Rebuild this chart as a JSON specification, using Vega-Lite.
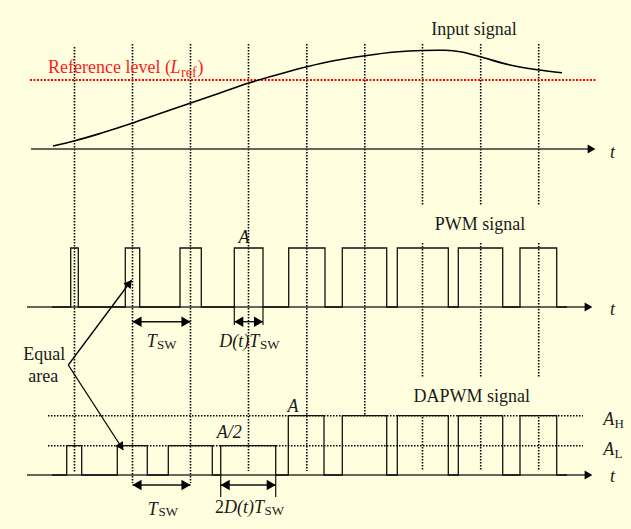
{
  "$schema": "https://vega.github.io/schema/vega-lite/v6.json",
  "width": 631,
  "height": 529,
  "autosize": {"type": "fit", "contains": "padding"},
  "padding": 0,
  "background": "#FFFFE0",
  "config": {"view": {"stroke": null}},
  "datasets": {
    "vdots": [
      {"x": 74.5, "y": 47, "y2": 472},
      {"x": 132.5, "y": 44, "y2": 483},
      {"x": 190.5, "y": 44, "y2": 483},
      {"x": 248.5, "y": 44, "y2": 471},
      {"x": 306.8, "y": 44, "y2": 471},
      {"x": 364.8, "y": 44, "y2": 415},
      {"x": 422.5, "y": 44, "y2": 205},
      {"x": 422.5, "y": 243, "y2": 378},
      {"x": 422.5, "y": 417, "y2": 470},
      {"x": 480.7, "y": 44, "y2": 205},
      {"x": 480.7, "y": 243, "y2": 378},
      {"x": 480.7, "y": 417, "y2": 470},
      {"x": 538.7, "y": 44, "y2": 205},
      {"x": 538.7, "y": 243, "y2": 378},
      {"x": 538.7, "y": 417, "y2": 470}
    ],
    "hdots": [
      {"x": 48, "x2": 583, "y": 415.7},
      {"x": 48, "x2": 583, "y": 445.7}
    ],
    "refline": [{"x": 30, "x2": 597, "y": 80}],
    "axes": [
      {"x": 31, "x2": 589, "y": 149},
      {"x": 27, "x2": 586, "y": 307},
      {"x": 27, "x2": 586, "y": 475}
    ],
    "axisHeads": [
      {"x": 591.5, "y": 149},
      {"x": 588.5, "y": 307},
      {"x": 588.5, "y": 475}
    ],
    "input": [
      {"x": 53, "y": 146},
      {"x": 74, "y": 141},
      {"x": 100, "y": 133.5},
      {"x": 132, "y": 123.3},
      {"x": 160, "y": 113.5},
      {"x": 190, "y": 103.3},
      {"x": 220, "y": 93},
      {"x": 248, "y": 83.3},
      {"x": 278, "y": 74.5},
      {"x": 307, "y": 66.7},
      {"x": 335, "y": 60.5},
      {"x": 365, "y": 55.7},
      {"x": 395, "y": 52},
      {"x": 422, "y": 50.5},
      {"x": 445, "y": 50.3},
      {"x": 462, "y": 52},
      {"x": 481, "y": 57},
      {"x": 510, "y": 65},
      {"x": 539, "y": 70},
      {"x": 562, "y": 72.7}
    ],
    "pwm": [
      {"x": 52, "y": 307}, {"x": 70.7, "y": 248}, {"x": 78.3, "y": 307},
      {"x": 125.3, "y": 248}, {"x": 139.7, "y": 307},
      {"x": 180, "y": 248}, {"x": 201.3, "y": 307},
      {"x": 234.3, "y": 248}, {"x": 263, "y": 307},
      {"x": 288.7, "y": 248}, {"x": 325, "y": 307},
      {"x": 342.3, "y": 248}, {"x": 386.7, "y": 307},
      {"x": 397.3, "y": 248}, {"x": 448.3, "y": 307},
      {"x": 458.3, "y": 248}, {"x": 502.7, "y": 307},
      {"x": 520, "y": 248}, {"x": 556.7, "y": 307},
      {"x": 567, "y": 307}
    ],
    "dapwm": [
      {"x": 52, "y": 475}, {"x": 66.7, "y": 445.7}, {"x": 81.7, "y": 475},
      {"x": 117.3, "y": 445.7}, {"x": 147.3, "y": 475},
      {"x": 168.3, "y": 445.7}, {"x": 212.3, "y": 475},
      {"x": 220.7, "y": 445.7}, {"x": 275.7, "y": 475},
      {"x": 288.3, "y": 415.7}, {"x": 324, "y": 475},
      {"x": 342.3, "y": 415.7}, {"x": 386.7, "y": 475},
      {"x": 397.3, "y": 415.7}, {"x": 448.3, "y": 475},
      {"x": 458.3, "y": 415.7}, {"x": 502.7, "y": 475},
      {"x": 520, "y": 415.7}, {"x": 556.7, "y": 475},
      {"x": 567, "y": 475}
    ],
    "ticks": [
      {"x": 234.3, "y": 307, "y2": 325},
      {"x": 263, "y": 307, "y2": 325},
      {"x": 220.7, "y": 475, "y2": 497},
      {"x": 275.7, "y": 475, "y2": 497}
    ],
    "dims": [
      {"x": 132.5, "x2": 190.5, "y": 321.7},
      {"x": 234.3, "x2": 263, "y": 321.7},
      {"x": 132.5, "x2": 190.5, "y": 485},
      {"x": 220.7, "x2": 275.7, "y": 485}
    ],
    "headsL": [
      {"x": 137, "y": 321.7},
      {"x": 238.8, "y": 321.7},
      {"x": 137, "y": 485},
      {"x": 225.2, "y": 485}
    ],
    "headsR": [
      {"x": 186, "y": 321.7},
      {"x": 258.5, "y": 321.7},
      {"x": 186, "y": 485},
      {"x": 271.2, "y": 485}
    ],
    "diag": [
      {"x": 68.3, "y": 365, "x2": 131.7, "y2": 280},
      {"x": 68.3, "y": 365, "x2": 123.3, "y2": 450}
    ],
    "diagHead1": [{"x": 129.4, "y": 283.1}],
    "diagHead2": [{"x": 121.2, "y": 446.7}],
    "romanCenter": [
      {"x": 474, "y": 35, "label": "Input signal"},
      {"x": 480, "y": 230, "label": "PWM signal"},
      {"x": 471.7, "y": 401.7, "label": "DAPWM signal"}
    ],
    "romanLeft": [
      {"x": 23.3, "y": 360, "label": "Equal"},
      {"x": 28.3, "y": 381.7, "label": "area"},
      {"x": 215, "y": 513.3, "label": "2"}
    ],
    "redRoman": [
      {"x": 48, "y": 73.3, "label": "Reference level ("},
      {"x": 197.5, "y": 73.3, "label": ")"}
    ],
    "redItalic": [{"x": 170.5, "y": 73.3, "label": "L"}],
    "redSub": [{"x": 181, "y": 76.5, "label": "ref"}],
    "italicLeft": [
      {"x": 146.7, "y": 347.3, "label": "T"},
      {"x": 219.3, "y": 347.3, "label": "D(t)T"},
      {"x": 147.7, "y": 514.5, "label": "T"},
      {"x": 224, "y": 513.3, "label": "D(t)T"},
      {"x": 603.3, "y": 425, "label": "A"},
      {"x": 603.3, "y": 455, "label": "A"}
    ],
    "subs": [
      {"x": 157, "y": 348.5, "label": "SW"},
      {"x": 260, "y": 348.5, "label": "SW"},
      {"x": 158.5, "y": 515.8, "label": "SW"},
      {"x": 264.5, "y": 514.6, "label": "SW"},
      {"x": 614.5, "y": 427.5, "label": "H"},
      {"x": 614.5, "y": 457.5, "label": "L"}
    ],
    "italicCenter": [
      {"x": 244, "y": 243.3, "label": "A"},
      {"x": 293, "y": 411.7, "label": "A"},
      {"x": 229.3, "y": 438.3, "label": "A/2"},
      {"x": 612.5, "y": 157.5, "label": "t"},
      {"x": 612.5, "y": 315, "label": "t"},
      {"x": 612.5, "y": 482, "label": "t"}
    ]
  },
  "encoding": {
    "x": {"field": "x", "type": "quantitative", "axis": null, "scale": {"domain": [0, 631], "nice": false, "zero": false}},
    "y": {"field": "y", "type": "quantitative", "axis": null, "scale": {"domain": [0, 529], "reverse": true, "nice": false, "zero": false}}
  },
  "layer": [
    {
      "data": {"name": "vdots"},
      "mark": {"type": "rule", "color": "#000000", "strokeWidth": 1.6, "strokeDash": [1.5, 1.5]},
      "encoding": {"y2": {"field": "y2"}}
    },
    {
      "data": {"name": "hdots"},
      "mark": {"type": "rule", "color": "#000000", "strokeWidth": 1.6, "strokeDash": [1.5, 1.5]},
      "encoding": {"x2": {"field": "x2"}}
    },
    {
      "data": {"name": "refline"},
      "mark": {"type": "rule", "color": "#FF0000", "strokeWidth": 2, "strokeDash": [2, 1.5]},
      "encoding": {"x2": {"field": "x2"}}
    },
    {
      "data": {"name": "axes"},
      "mark": {"type": "rule", "color": "#333333", "strokeWidth": 1.3},
      "encoding": {"x2": {"field": "x2"}}
    },
    {
      "data": {"name": "axisHeads"},
      "mark": {"type": "point", "shape": "triangle-right", "filled": true, "size": 81, "color": "#000000", "opacity": 1}
    },
    {
      "data": {"name": "input"},
      "mark": {"type": "line", "interpolate": "monotone", "color": "#000000", "strokeWidth": 1.6}
    },
    {
      "data": {"name": "pwm"},
      "mark": {"type": "line", "interpolate": "step-after", "color": "#111111", "strokeWidth": 1.3}
    },
    {
      "data": {"name": "dapwm"},
      "mark": {"type": "line", "interpolate": "step-after", "color": "#111111", "strokeWidth": 1.3}
    },
    {
      "data": {"name": "ticks"},
      "mark": {"type": "rule", "color": "#111111", "strokeWidth": 1.2},
      "encoding": {"y2": {"field": "y2"}}
    },
    {
      "data": {"name": "dims"},
      "mark": {"type": "rule", "color": "#111111", "strokeWidth": 1.4},
      "encoding": {"x2": {"field": "x2"}}
    },
    {
      "data": {"name": "headsL"},
      "mark": {"type": "point", "shape": "triangle-left", "filled": true, "size": 110, "color": "#000000", "opacity": 1}
    },
    {
      "data": {"name": "headsR"},
      "mark": {"type": "point", "shape": "triangle-right", "filled": true, "size": 110, "color": "#000000", "opacity": 1}
    },
    {
      "data": {"name": "diag"},
      "mark": {"type": "rule", "color": "#000000", "strokeWidth": 1.3},
      "encoding": {"x2": {"field": "x2"}, "y2": {"field": "y2"}}
    },
    {
      "data": {"name": "diagHead1"},
      "mark": {"type": "point", "shape": "triangle-right", "filled": true, "size": 80, "angle": 306.7, "color": "#000000", "opacity": 1}
    },
    {
      "data": {"name": "diagHead2"},
      "mark": {"type": "point", "shape": "triangle-right", "filled": true, "size": 80, "angle": 57.1, "color": "#000000", "opacity": 1}
    },
    {
      "data": {"name": "romanCenter"},
      "mark": {"type": "text", "font": "Liberation Serif, Times New Roman, serif", "fontSize": 18, "align": "center", "baseline": "alphabetic", "color": "#1a1a1a"},
      "encoding": {"text": {"field": "label"}}
    },
    {
      "data": {"name": "romanLeft"},
      "mark": {"type": "text", "font": "Liberation Serif, Times New Roman, serif", "fontSize": 18, "align": "left", "baseline": "alphabetic", "color": "#1a1a1a"},
      "encoding": {"text": {"field": "label"}}
    },
    {
      "data": {"name": "redRoman"},
      "mark": {"type": "text", "font": "Liberation Serif, Times New Roman, serif", "fontSize": 18, "align": "left", "baseline": "alphabetic", "color": "#FF1a1a"},
      "encoding": {"text": {"field": "label"}}
    },
    {
      "data": {"name": "redItalic"},
      "mark": {"type": "text", "font": "Liberation Serif, Times New Roman, serif", "fontSize": 18, "fontStyle": "italic", "align": "left", "baseline": "alphabetic", "color": "#FF1a1a"},
      "encoding": {"text": {"field": "label"}}
    },
    {
      "data": {"name": "redSub"},
      "mark": {"type": "text", "font": "Liberation Serif, Times New Roman, serif", "fontSize": 14, "align": "left", "baseline": "alphabetic", "color": "#FF1a1a"},
      "encoding": {"text": {"field": "label"}}
    },
    {
      "data": {"name": "italicLeft"},
      "mark": {"type": "text", "font": "Liberation Serif, Times New Roman, serif", "fontSize": 18, "fontStyle": "italic", "align": "left", "baseline": "alphabetic", "color": "#1a1a1a"},
      "encoding": {"text": {"field": "label"}}
    },
    {
      "data": {"name": "subs"},
      "mark": {"type": "text", "font": "Liberation Serif, Times New Roman, serif", "fontSize": 13, "align": "left", "baseline": "alphabetic", "color": "#1a1a1a"},
      "encoding": {"text": {"field": "label"}}
    },
    {
      "data": {"name": "italicCenter"},
      "mark": {"type": "text", "font": "Liberation Serif, Times New Roman, serif", "fontSize": 18, "fontStyle": "italic", "align": "center", "baseline": "alphabetic", "color": "#1a1a1a"},
      "encoding": {"text": {"field": "label"}}
    }
  ]
}
